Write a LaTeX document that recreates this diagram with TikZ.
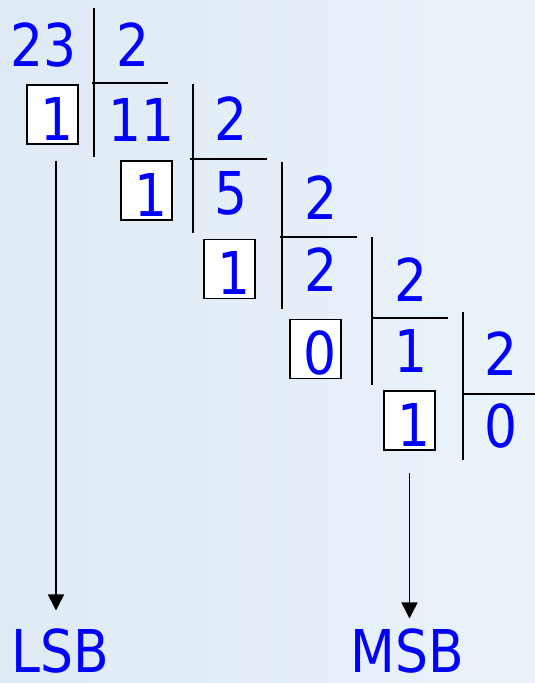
\documentclass[tikz,border=0pt]{standalone}
\usepackage{fontspec}
\setmainfont{DejaVu Sans}[FakeStretch=0.88]
\usepackage{tikz}
\usetikzlibrary{arrows.meta,calc,positioning}
\definecolor{digitBlue}{HTML}{0000FF}
\definecolor{waterLeft}{HTML}{DFEAF4}
\definecolor{waterRight}{HTML}{EBF3FA}

\begin{document}
\begin{tikzpicture}[
    x=1pt,y=-1pt,
    >=Triangle,
    num/.style={inner sep=0pt,text=digitBlue,font=\fontsize{59}{59}\selectfont},
    rembox/.style={num,draw=black,fill=white,line width=1.5pt,
      minimum width=51pt,minimum height=59pt,inner xsep=4pt,
      text width=43pt,align=right,text height=51pt,text depth=0pt},
    bar/.style={line width=2.6pt,black},
    down/.style={line width=1.6pt,black,
      arrows={-Triangle[width=16pt,length=16pt]}}
  ]
    % background
    \shade[left color=waterLeft,right color=waterRight] (0,0) rectangle (535,683);
    \useasboundingbox (0,0) rectangle (535,683);

    % dividends / quotients
    \node[num] (n0) at (43.5,45) {23};
    \node[num] (q1) at (141.5,119.5) {11};
    \node[num] (q2) at (231,193) {5};
    \node[num] (q3) at (321,270) {2};
    \node[num] (q4) at (411.5,351) {1};
    \node[num] (q5) at (501.5,426) {0};

    % divisors
    \node[num] (d0) at (133,45) {2};
    \node[num] (d1) at (231.5,118.5) {2};
    \node[num] (d2) at (321,197.5) {2};
    \node[num] (d3) at (411.5,279.5) {2};
    \node[num] (d4) at (501.5,353.5) {2};

    % remainders
    \node[rembox] (r0) at (52.5,114.5) {1};
    \node[rembox] (r1) at (146.5,190.5) {1};
    \node[rembox] (r2) at (229.5,269) {1};
    \node[rembox] (r3) at (315.5,349) {0};
    \node[rembox] (r4) at (409.5,420.5) {1};

    % division bars
    \draw[bar] (94,8) -- (94,157);   \draw[bar] (92,83) -- (168,83);
    \draw[bar] (193,84) -- (193,233); \draw[bar] (190,159) -- (267,159);
    \draw[bar] (282,162) -- (282,309); \draw[bar] (280,237) -- (357,237);
    \draw[bar] (372,237) -- (372,385); \draw[bar] (371,318) -- (448,318);
    \draw[bar] (463,312) -- (463,460); \draw[bar] (462,394) -- (535,394);

    % bit order
    \node[num] (lsb) at (60.5,651) {LSB};
    \node[num] (msb) at (407,651) {MSB};
    \draw[down] ([xshift=3.5pt,yshift=-16pt]r0.south) -- ([xshift=3.5pt]r0.south |- lsb.north) [shorten >=18pt];
    \draw[down] ([yshift=-22pt]r4.south) -- (r4.south |- msb.north) [shorten >=10pt];
  \end{tikzpicture}
\end{document}
